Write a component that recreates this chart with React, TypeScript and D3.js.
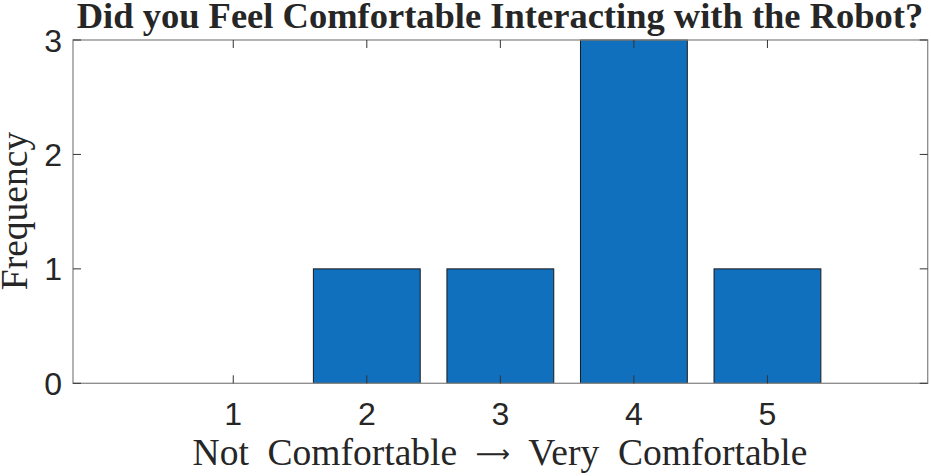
import React from "react";
import * as d3 from "d3";

const categories = [1, 2, 3, 4, 5];
const frequencies = [0, 1, 1, 3, 1];
const yTicks = [0, 1, 2, 3];
const title = "Did you Feel Comfortable Interacting with the Robot?";
const xLabelLeft = "Not  Comfortable  ";
const xLabelArrow = "\u27F6";
const xLabelRight = "  Very  Comfortable";
const yLabel = "Frequency";

export default function App() {
  const W = 931, H = 476;
  const left = 73, right = 927.7, top = 40, bottom = 383.3;
  const x = d3.scaleLinear().domain([-0.2, 6.2]).range([left, right]);
  const y = d3.scaleLinear().domain([0, 3]).range([bottom, top]);
  const bw = x(0.8) - x(0);
  const tickLen = 8;
  return (
    <svg width={W} height={H} style={{ position: "absolute", left: 0, top: 0, background: "#fff" }}>
      {categories.map((c, i) =>
        frequencies[i] > 0 ? (
          <rect key={c} x={x(c) - bw / 2} y={y(frequencies[i])} width={bw}
            height={y(0) - y(frequencies[i])} fill="#1170BE" stroke="#1a1a1a" strokeWidth={1} />
        ) : null
      )}
      <rect x={left} y={top} width={right - left} height={bottom - top} fill="none" stroke="#8a8a8a" strokeWidth={1.3} />
      {categories.map((c) => (
        <g key={"xt" + c}>
          <line x1={x(c)} x2={x(c)} y1={bottom} y2={bottom - tickLen} stroke="#333" />
          <line x1={x(c)} x2={x(c)} y1={top} y2={top + tickLen} stroke="#333" />
          <text x={x(c)} y={425} textAnchor="middle" fontFamily="Liberation Sans, Arial" fontSize={32} fill="#262626">{c}</text>
        </g>
      ))}
      {yTicks.map((t) => (
        <g key={"yt" + t}>
          <line x1={left} x2={left + tickLen} y1={y(t)} y2={y(t)} stroke="#333" />
          <line x1={right} x2={right - tickLen} y1={y(t)} y2={y(t)} stroke="#333" />
          <text x={62} y={y(t)} dy="0.36em" textAnchor="end" fontFamily="Liberation Sans, Arial" fontSize={32} fill="#262626">{t}</text>
        </g>
      ))}
      <text x={500} y={27.5} textAnchor="middle" fontFamily="Liberation Serif, Times New Roman" fontWeight="bold" fontSize={36.5} fill="#262626">{title}</text>
      <text x={500} y={464.5} textAnchor="middle" fontFamily="Liberation Serif, Times New Roman" fontSize={37.5} fill="#262626" xmlSpace="preserve" style={{ whiteSpace: "pre" }}>
        <tspan style={{ whiteSpace: "pre" }}>{xLabelLeft}</tspan>
        <tspan fontFamily="DejaVu Sans" fontSize={24} dy={-3}>{xLabelArrow}</tspan>
        <tspan style={{ whiteSpace: "pre" }} dy={3}>{xLabelRight}</tspan>
      </text>
      <text transform={`translate(27,211) rotate(-90)`} textAnchor="middle" fontFamily="Liberation Serif, Times New Roman" fontSize={37.5} fill="#262626">{yLabel}</text>
    </svg>
  );
}
